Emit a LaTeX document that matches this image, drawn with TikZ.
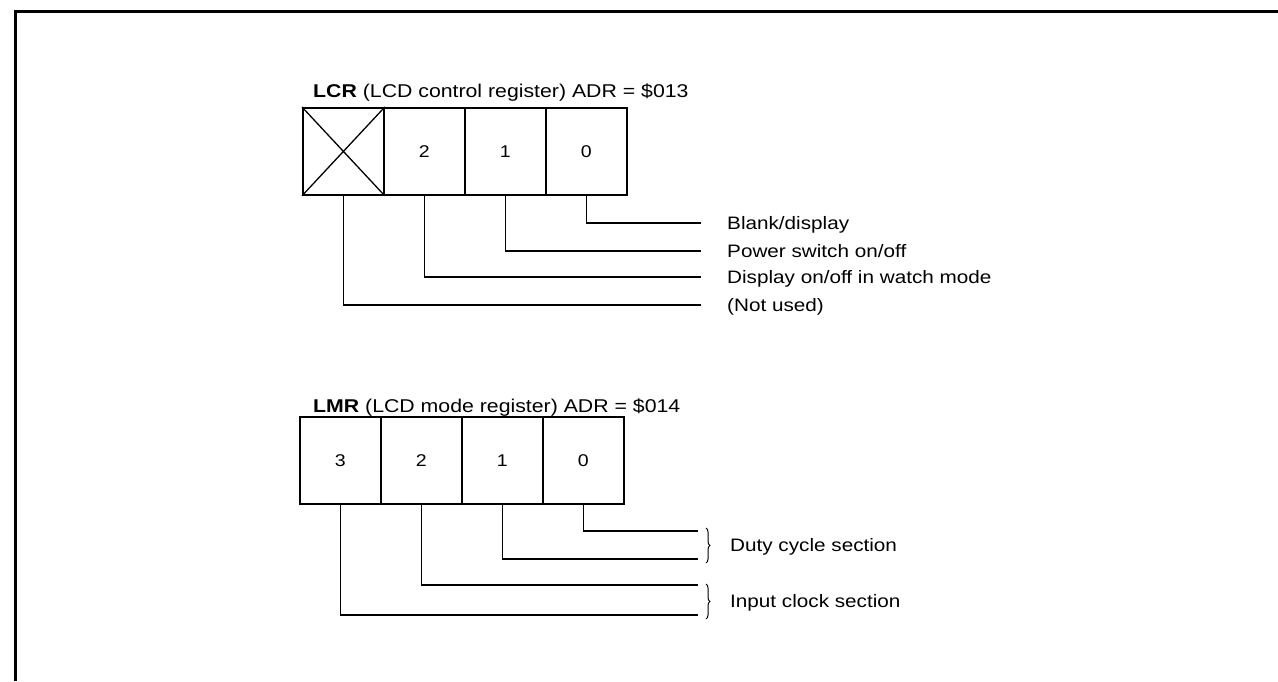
\documentclass[tikz,border=0pt]{standalone}
\usepackage{fontspec}
\setmainfont{Liberation Sans}
\newfontfamily\lab[FakeStretch=1.15]{Liberation Sans}
\usetikzlibrary{decorations.pathreplacing}
\tikzset{
  bitbox/.style={draw, line width=1.8pt, minimum width=81pt, minimum height=87pt, inner sep=0pt, anchor=north west, font=\lab\fontsize{17}{19}\selectfont},
  lead/.style={line width=1.3pt},
  lbl/.style={anchor=base west, inner sep=0pt, font=\lab\fontsize{18}{20}\selectfont},
  ttl/.style={anchor=base west, inner sep=0pt, font=\lab\fontsize{18.5}{20}\selectfont},
  frame/.style={line width=3pt},
  brc/.style={decorate, decoration={brace, amplitude=4pt}, line width=1pt}
}
\begin{document}
\begin{tikzpicture}[x=1pt,y=-1pt]
\useasboundingbox (0,0) rectangle (1278,681);
% frame
\coordinate (fb) at (15,681);
\coordinate (fc) at (15,11);
\coordinate (fr) at (1278,11);
\draw[frame] (fb) -- (fc) -- (fr);

% LCR
\node[ttl] (t1) at (313,97) {\textbf{LCR} (LCD control register) ADR = \$013};
\node[bitbox] (a3) at (302,107) {};
\node[bitbox] (a2) at (383,107) {2};
\node[bitbox] (a1) at (464,107) {1};
\node[bitbox] (a0) at (545,107) {0};
\draw[line width=1.3pt] (a3.north west) -- (a3.south east) (a3.south west) -- (a3.north east);

\coordinate (e0) at (701,223);
\coordinate (e1) at (701,251);
\coordinate (e2) at (701,277);
\coordinate (e3) at (701,305);
\draw[lead] (a0.south) |- (e0);
\draw[lead] (a1.south) |- (e1);
\draw[lead] (a2.south) |- (e2);
\draw[lead] (a3.south) |- (e3);
\node[lbl] (l0) at (727,229.5) {Blank/display};
\node[lbl] (l1) at (727,257.5) {Power switch on/off};
\node[lbl] (l2) at (727,283.5) {Display on/off in watch mode};
\node[lbl] (l3) at (727,311.5) {(Not used)};

% LMR
\node[ttl] (t2) at (313,412) {\textbf{LMR} (LCD mode register) ADR = \$014};
\node[bitbox] (m3) at (299,416) {3};
\node[bitbox] (m2) at (380,416) {2};
\node[bitbox] (m1) at (461,416) {1};
\node[bitbox] (m0) at (542,416) {0};

\coordinate (f0) at (698,531);
\coordinate (f1) at (698,559);
\coordinate (f2) at (698,585);
\coordinate (f3) at (698,615);
\draw[lead] (m0.south) |- (f0);
\draw[lead] (m1.south) |- (f1);
\draw[lead] (m2.south) |- (f2);
\draw[lead] (m3.south) |- (f3);

\coordinate (b0t) at (706,528);
\coordinate (b0b) at (706,563);
\coordinate (b1t) at (706,584);
\coordinate (b1b) at (706,619);
\draw[brc] (b0t) -- (b0b);
\draw[brc] (b1t) -- (b1b);
\node[lbl] (d0) at (730,551.5) {Duty cycle section};
\node[lbl] (d1) at (730,607) {Input clock section};
\end{tikzpicture}
\end{document}
